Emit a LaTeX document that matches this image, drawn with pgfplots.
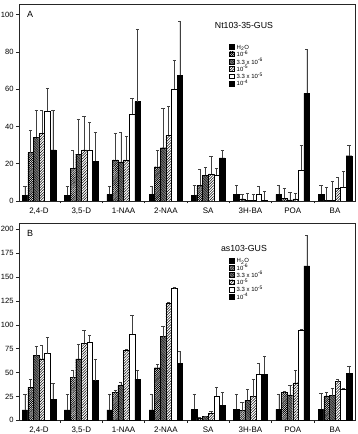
\documentclass[border=0pt]{standalone}
\usepackage{fontspec}
\setmainfont{Liberation Sans}
\usepackage{pgfplots}
\usepackage{pgfplotstable}
\pgfplotsset{compat=1.18}
\usetikzlibrary{patterns.meta}

% GUS activity, Nt103-35-GUS: value and upper error for each concentration
\pgfplotstableread{
x v1  e1  v2   e2   v3   e3   v4   e4   v5   e5   v6   e6
0 3.2 4.5 26.0 11.8 34.3 14.6 36.3 12.6 48.2 12.5 27.4 21.5
1 3.2 4.5 17.5 9.5  25.1 18.9 27.4 18.1 27.4 14.6 21.2 15.8
2 3.6 4.4 22.0 14.3 21.0 16.0 22.0 13.0 46.5 8.5  53.3 39.0
3 3.6 4.4 18.4 9.0  28.6 21.1 35.4 15.6 60.1 15.2 67.6 29.0
4 3.2 5.0 8.4  8.8  13.8 4.2  14.6 9.6  14.0 3.4  23.2 4.0
5 3.6 4.6 1.2  2.4  0.4  3.6  0.3  3.1  3.6  4.4  0.5  4.9
6 3.6 4.6 1.5  5.5  0.6  3.9  1.2  3.0  16.6 13.4 57.8 23.6
7 3.6 4.6 0.3  7.0  0.3  10.1 6.8  6.2  7.3  8.4  24.3 5.7
}\tabA

% GUS activity, as103-GUS
\pgfplotstableread{
x v1   e1   v2   e2  v3   e3   v4    e4   v5    e5   v6    e6
0 10.8 16.2 34.4 8.6 67.7 10.3 64.5  13.7 69.9  17.4 22.2  16.8
1 10.8 16.7 44.7 7.3 64.2 15.8 80.6  13.3 82.2  7.3  41.5  22.9
2 11.0 16.6 29.0 2.4 36.5 3.1  73.6  0.7  90.0  20.3 43.2  9.5
3 11.0 16.6 55.1 3.9 87.6 10.4 122.7 1.3  138.0 1.0  59.7  12.2
4 11.5 16.1 2.1  1.0 3.8  0.7  7.6   1.4  25.5  9.5  16.0  13.0
5 11.5 16.1 10.1 9.0 20.9 12.0 24.8  18.0 48.4  11.0 48.4  19.0
6 11.5 16.1 29.3 0.7 26.5 10.5 39.4  13.3 94.6  0.7  161.6 32.4
7 11.5 16.8 25.5 3.5 25.8 7.7  40.5  2.8  32.8  0.7  49.2  7.7
}\tabB

\pgfplotsset{
  barbase/.style={draw=black, line width=0.35pt,
    legend image code/.code={\draw[##1] (0bp,-2.0bp) rectangle (4.8bp,2.7bp);},
    error bars/y dir=plus, error bars/y explicit,
    error bars/error bar style={draw=black!75, line width=0.4pt, fill=none, postaction={}},
    error bars/error mark options={rotate=90, draw=black!75, line width=0.5pt, mark size=1.6bp}},
  s1/.style={barbase, fill=black},
  s2/.style={barbase, fill=white,
    postaction={pattern={Lines[angle=45,distance=1.5pt,line width=0.8pt]}}},
  s3/.style={barbase, fill=black!55,
    postaction={pattern={Lines[angle=-45,distance=1.8pt,line width=0.35pt]}}},
  s4/.style={barbase, fill=white,
    postaction={pattern={Lines[angle=45,distance=1.9pt,line width=0.5pt]}}},
  s5/.style={barbase, fill=white},
  s6/.style={barbase, fill=black},
  panel/.style={
    scale only axis, width=335.5bp, height=197bp, anchor=south west,
    xmin=-0.461, xmax=7.472, ymin=0,
    ybar=0pt, bar width=5.6bp,
    xtick={0,...,7},
    xticklabels={{2,4-D},{3,5-D},{1-NAA},{2-NAA},{SA},{3H-BA},{POA},{BA}},
    minor xtick={0.5,1.5,...,6.5},
    major x tick style={draw=none},
    tick align=outside, tick pos=left,
    major tick length=3.5bp, minor tick length=2.5bp,
    axis line style={line width=0.6pt, black!85},
    tick style={line width=0.5pt, black!85},
    xticklabel style={font=\fontsize{8}{9}\selectfont, yshift=0.5pt},
    yticklabel style={font=\fontsize{7.6}{8}\selectfont, xshift=1pt},
    /pgf/number format/assume math mode=true,
    legend cell align=left,
    legend entries={H\textsubscript{2}O, 10\textsuperscript{-6},
      3.3 x 10\textsuperscript{-6}, 10\textsuperscript{-5},
      3.3 x 10\textsuperscript{-5}, 10\textsuperscript{-4}},
    legend style={draw=none, fill=none, anchor=north west, inner sep=0pt,
      font=\fontsize{6}{7}\selectfont, row sep=1pt,
      nodes={inner sep=0pt, text height=5.3pt, text depth=1pt},
      column sep=2.5pt},
  },
}

\begin{document}
\begin{tikzpicture}
\useasboundingbox (0bp,0bp) rectangle (358bp,434bp);

\begin{axis}[panel, at={(19.5bp,233bp)}, ymax=105.7, ytick={0,20,...,100},
  legend style={at={(0.624,0.797)}}]
  \addplot[s1] table[x=x, y=v1, y error=e1] {\tabA};
  \addplot[s2] table[x=x, y=v2, y error=e2] {\tabA};
  \addplot[s3] table[x=x, y=v3, y error=e3] {\tabA};
  \addplot[s4] table[x=x, y=v4, y error=e4] {\tabA};
  \addplot[s5] table[x=x, y=v5, y error=e5] {\tabA};
  \addplot[s6] table[x=x, y=v6, y error=e6] {\tabA};
  \node[anchor=west, font=\fontsize{9}{10}\selectfont] at (rel axis cs:0.012,0.946) {A};
  \node[font=\fontsize{8.8}{10}\selectfont] at (rel axis cs:0.669,0.893) {Nt103-35-GUS};
\end{axis}

\begin{axis}[panel, at={(19.5bp,13.7bp)}, ymax=206.3, ytick={0,25,...,200},
  legend style={at={(0.624,0.827)}}]
  \addplot[s1] table[x=x, y=v1, y error=e1] {\tabB};
  \addplot[s2] table[x=x, y=v2, y error=e2] {\tabB};
  \addplot[s3] table[x=x, y=v3, y error=e3] {\tabB};
  \addplot[s4] table[x=x, y=v4, y error=e4] {\tabB};
  \addplot[s5] table[x=x, y=v5, y error=e5] {\tabB};
  \addplot[s6] table[x=x, y=v6, y error=e6] {\tabB};
  \node[anchor=west, font=\fontsize{9}{10}\selectfont] at (rel axis cs:0.012,0.949) {B};
  \node[font=\fontsize{8.8}{10}\selectfont] at (rel axis cs:0.669,0.870) {as103-GUS};
\end{axis}
\end{tikzpicture}
\end{document}
